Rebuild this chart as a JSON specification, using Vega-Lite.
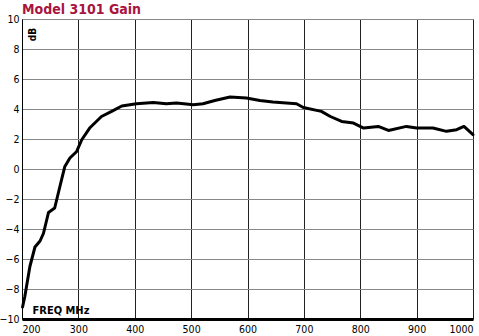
{
  "$schema": "https://vega.github.io/schema/vega-lite/v6.json",
  "width": 451,
  "height": 300,
  "autosize": "none",
  "padding": {"left": 22, "top": 19, "right": 6, "bottom": 17},
  "background": "white",
  "title": {
    "text": "Model 3101 Gain",
    "anchor": "start",
    "frame": "group",
    "dx": 0,
    "dy": 17,
    "offset": 0,
    "baseline": "bottom",
    "font": "DejaVu Sans Condensed, Liberation Sans, sans-serif",
    "fontSize": 14,
    "fontWeight": "bold",
    "color": "#a8153f"
  },
  "config": {
    "view": {"stroke": "#888", "strokeWidth": 1},
    "axis": {"labelFont": "DejaVu Sans Condensed, Liberation Sans, sans-serif", "labelFontSize": 10.5, "labelColor": "#000", "titleFont": "DejaVu Sans Condensed, Liberation Sans, sans-serif"}
  },
  "data": {
    "values": [
      {"f": 201, "db": -9.2},
      {"f": 205, "db": -8.5},
      {"f": 214, "db": -6.5},
      {"f": 223, "db": -5.2},
      {"f": 232, "db": -4.8},
      {"f": 238, "db": -4.3},
      {"f": 247, "db": -2.9},
      {"f": 258, "db": -2.6},
      {"f": 267, "db": -1.2},
      {"f": 276, "db": 0.17},
      {"f": 285, "db": 0.73},
      {"f": 297, "db": 1.17},
      {"f": 306, "db": 1.95},
      {"f": 320, "db": 2.73},
      {"f": 341, "db": 3.5},
      {"f": 359, "db": 3.84},
      {"f": 377, "db": 4.2},
      {"f": 403, "db": 4.35},
      {"f": 433, "db": 4.44},
      {"f": 456, "db": 4.35},
      {"f": 474, "db": 4.4},
      {"f": 504, "db": 4.29},
      {"f": 521, "db": 4.35},
      {"f": 542, "db": 4.57},
      {"f": 569, "db": 4.8},
      {"f": 598, "db": 4.73},
      {"f": 622, "db": 4.57},
      {"f": 645, "db": 4.46},
      {"f": 669, "db": 4.4},
      {"f": 687, "db": 4.35},
      {"f": 699, "db": 4.1},
      {"f": 731, "db": 3.84},
      {"f": 747, "db": 3.5},
      {"f": 767, "db": 3.17},
      {"f": 788, "db": 3.06},
      {"f": 806, "db": 2.73},
      {"f": 832, "db": 2.84},
      {"f": 850, "db": 2.57},
      {"f": 882, "db": 2.84},
      {"f": 900, "db": 2.73},
      {"f": 929, "db": 2.73},
      {"f": 953, "db": 2.51},
      {"f": 971, "db": 2.62},
      {"f": 984, "db": 2.84},
      {"f": 1000, "db": 2.29}
    ]
  },
  "mark": {"type": "line", "color": "#000", "strokeWidth": 3, "strokeJoin": "round", "strokeCap": "round"},
  "encoding": {
    "x": {
      "field": "f",
      "type": "quantitative",
      "scale": {"domain": [200, 1000], "nice": false, "zero": false},
      "axis": {
        "values": [200, 300, 400, 500, 600, 700, 800, 900, 1000],
        "format": "d",
        "grid": true,
        "gridColor": "#222",
        "gridWidth": 1,
        "gridOpacity": 1,
        "ticks": false,
        "domainColor": "#000",
        "domainWidth": 3,
        "labelPadding": 5,
        "labelFlush": true,
        "labelFlushOffset": 0,
        "title": "FREQ  MHz",
        "titleFontSize": 11,
        "titleFontWeight": "bold",
        "titleColor": "#000",
        "titleAnchor": "start",
        "titleAlign": "left",
        "titleBaseline": "alphabetic",
        "titleX": 10,
        "titleY": -6
      }
    },
    "y": {
      "field": "db",
      "type": "quantitative",
      "scale": {"domain": [-10, 10], "nice": false, "zero": false},
      "axis": {
        "values": [-10, -8, -6, -4, -2, 0, 2, 4, 6, 8, 10],
        "grid": true,
        "gridColor": "#888",
        "gridWidth": 1,
        "gridOpacity": 1,
        "ticks": false,
        "domainColor": "#000",
        "domainWidth": 1,
        "labelPadding": 3,
        "title": "dB",
        "titleFontSize": 10,
        "titleFontWeight": "bold",
        "titleColor": "#000",
        "titleAngle": -90,
        "titleAlign": "center",
        "titleBaseline": "middle",
        "titleX": 10,
        "titleY": 15
      }
    }
  }
}
